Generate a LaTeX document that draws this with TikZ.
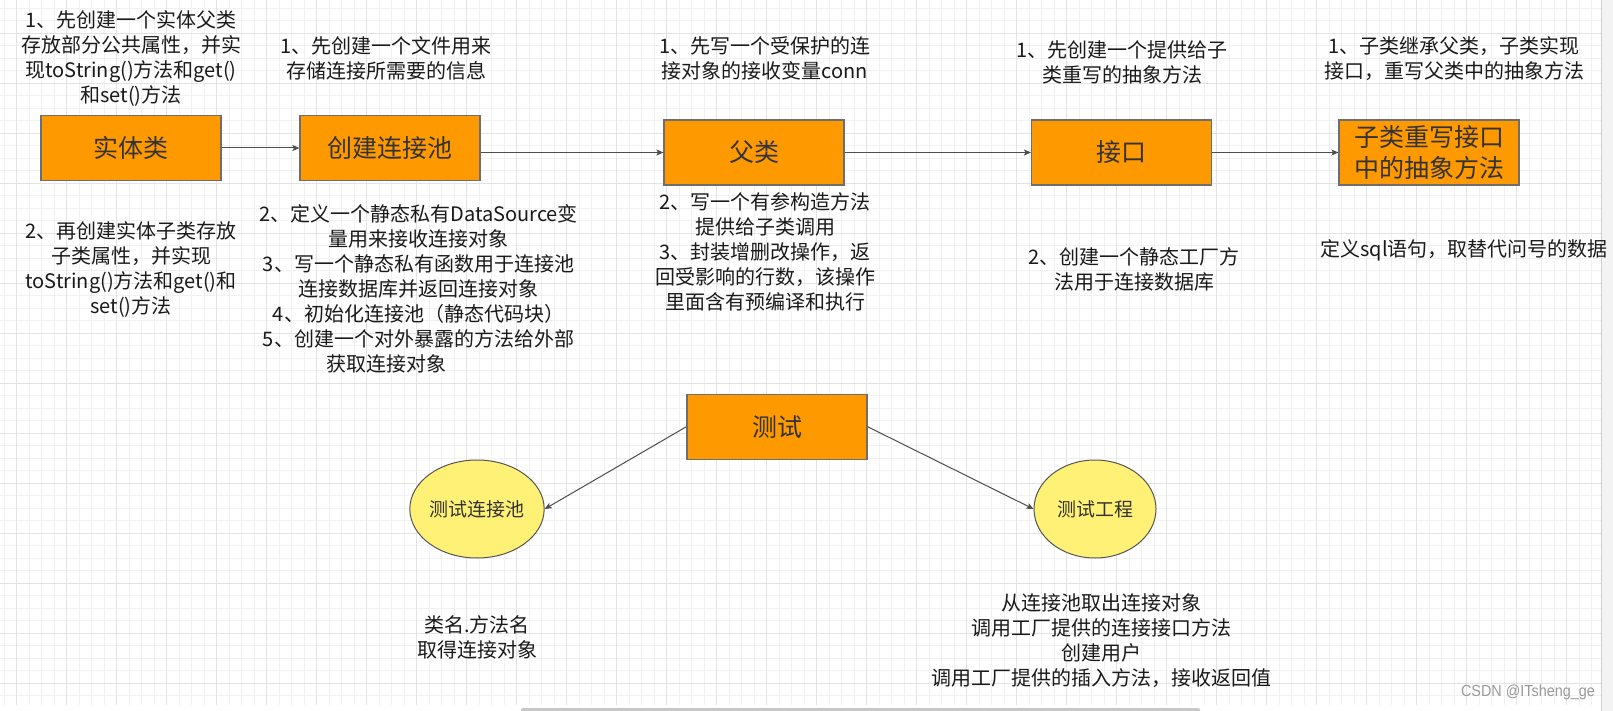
\documentclass[tikz,border=0pt]{standalone}
\usepackage{fontspec}
\usepackage{graphicx}
\setmainfont{Noto Sans CJK SC}
\newfontfamily\wmfont{Liberation Sans}
\usetikzlibrary{arrows.meta,shapes.geometric}
\definecolor{gridminor}{HTML}{F1F1F1}
\definecolor{gridmajor}{HTML}{E3E3E3}
\definecolor{boxfill}{HTML}{FF9900}
\definecolor{boxline}{HTML}{6E6E6E}
\definecolor{ellfill}{HTML}{FFF176}
\definecolor{ellline}{HTML}{555555}
\definecolor{edgecol}{HTML}{4D4D4D}
\definecolor{txt}{HTML}{1A1A1A}
\definecolor{boxtxt}{HTML}{333333}
\definecolor{wmcol}{HTML}{999999}
\definecolor{stripfill}{HTML}{F3F3F3}
\definecolor{stripline}{HTML}{CFCFCF}
\definecolor{barcol}{HTML}{C8C8C8}
\begin{document}
\begin{tikzpicture}[x=1pt,y=-1pt,
  stepbox/.style={draw=boxline, line width=1.2pt, fill=boxfill, minimum width=180pt,
    minimum height=65pt, inner sep=0pt, font=\fontsize{25}{31}\selectfont, text=boxtxt, align=center},
  ellbox/.style={ellipse, draw=ellline, line width=1pt, fill=ellfill, minimum width=122pt,
    minimum height=98pt, inner sep=0pt, font=\fontsize{19}{24}\selectfont, text=boxtxt},
  note/.style={font=\fontsize{20}{25}\selectfont, align=center, text=txt, inner sep=0pt},
  conn/.style={draw=edgecol, line width=1pt, -{Stealth[length=7pt,width=6pt,inset=1.5pt]}}
]
\useasboundingbox (0,0) rectangle (1613,711);
\fill[white] (0,0) rectangle (1613,711);
% grid
\foreach \i in {0,...,127} { \draw[gridminor, line width=1pt] ({4.17+12.5*\i},0) -- ({4.17+12.5*\i},705); }
\foreach \j in {0,...,55} { \draw[gridminor, line width=1pt] (0,{8.33+12.5*\j}) -- (1601,{8.33+12.5*\j}); }
\foreach \i in {0,...,31} { \draw[gridmajor, line width=1pt] ({16.67+50*\i},0) -- ({16.67+50*\i},705); }
\foreach \j in {0,...,13} { \draw[gridmajor, line width=1pt] (0,{33.33+50*\j}) -- (1601,{33.33+50*\j}); }
% right strip and bottom scroll bar
\fill[stripfill] (1601.5,0) rectangle (1613,711);
\draw[stripline, line width=1pt] (1601.5,0) -- (1601.5,711);
\fill[barcol, rounded corners=2pt] (521,708) rectangle (1200,713);

% main boxes
\node[stepbox] (A) at (131,148) {实体类};
\node[stepbox] (B) at (390,148) {创建连接池};
\node[stepbox] (C) at (754,152.5) {父类};
\node[stepbox] (D) at (1121.5,152.5) {接口};
\node[stepbox] (E) at (1429,152.5) {子类重写接口\\中的抽象方法};
\node[stepbox] (T) at (777,426.7) {测试};
\node[ellbox] (P) at (477,509) {测试连接池};
\node[ellbox] (G) at (1095,509) {测试工程};

% connectors
\draw[conn] (A.east) -- (B.west);
\draw[conn] (B.east |- C.west) -- (C.west);
\draw[conn] (C.east) -- (D.west);
\draw[conn] (D.east) -- (E.west);
\draw[conn] (T.west) -- (P.east);
\draw[conn] (T.east) -- (G.west);

% notes
\node[note] (n1) at (131,58.2) {1、先创建一个实体父类\\存放部分公共属性，并实\\现toString()方法和get()\\和set()方法};
\node[note] (n2) at (386,58.2) {1、先创建一个文件用来\\存储连接所需要的信息};
\node[note] (n3) at (131,269.8) {2、再创建实体子类存放\\子类属性，并实现\\toString()方法和get()和\\set()方法};
\node[note] (n4) at (418.5,289.3) {2、定义一个静态私有DataSource变\\量用来接收连接对象\\3、写一个静态私有函数用于连接池\\连接数据库并返回连接对象\\4、初始化连接池（静态代码块）\\5、创建一个对外暴露的方法给外部\\获取连接对象\makebox[65pt]{}};
\node[note] (n5) at (765,58.2) {1、先写一个受保护的连\\接对象的接收变量conn};
\node[note] (n6) at (765,251.7) {2、写一个有参构造方法\\提供给子类调用\\3、封装增删改操作，返\\回受影响的行数，该操作\\里面含有预编译和执行};
\node[note] (n7) at (1122,62.5) {1、先创建一个提供给子\\类重写的抽象方法};
\node[note] (n8) at (1134,269.8) {2、创建一个静态工厂方\\法用于连接数据库};
\node[note] (n9) at (1454,58.2) {1、子类继承父类，子类实现\\接口，重写父类中的抽象方法};
\node[note] (n10) at (1464,250) {定义sql语句，取替代问号的数据};
\node[note] (n11) at (477,637) {类名.方法名\\取得连接对象};
\node[note] (n12) at (1101,640.5) {从连接池取出连接对象\\调用工厂提供的连接接口方法\\创建用户\\调用工厂提供的插入方法，接收返回值};
\node[text=wmcol, inner sep=0pt, font=\wmfont\fontsize{16}{18}\selectfont] (wm) at (1528,692.7) {\scalebox{0.9}[1]{CSDN @ITsheng\_ge}};
\end{tikzpicture}
\end{document}
